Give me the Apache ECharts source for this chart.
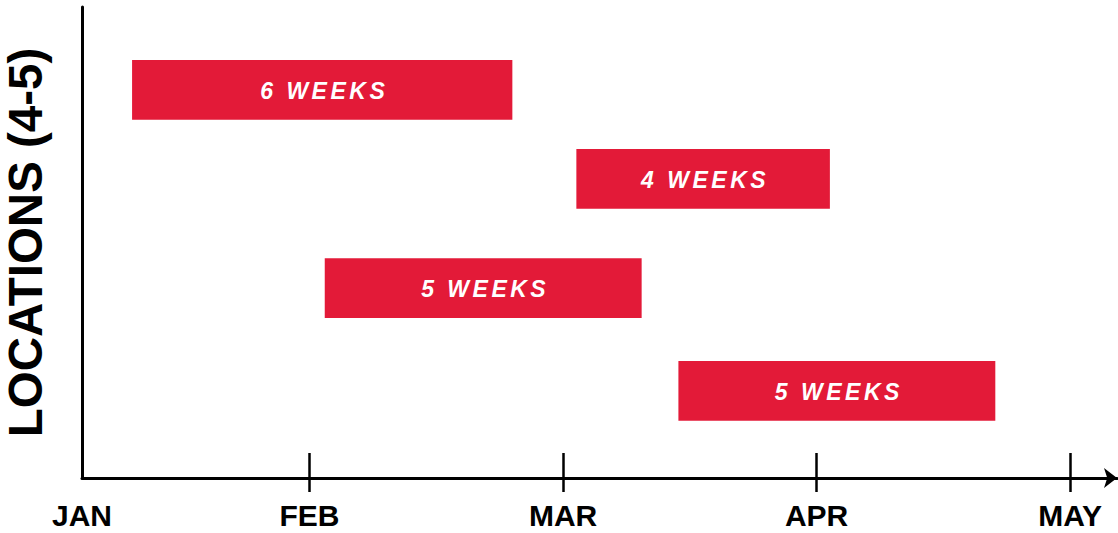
<!DOCTYPE html>
<html>
<head>
<meta charset="utf-8" />
<title>Locations timeline</title>
<script src="https://cdn.jsdelivr.net/npm/echarts@6/dist/echarts.min.js"></script>
<style>
  html, body { margin: 0; padding: 0; background: #fff; }
  #main { width: 1118px; height: 533px; }
  /* bar labels are spaced out a little */
  #main text[fill="#ffffff"], #main text[fill="#fff"] { letter-spacing: 3.5px; }
</style>
</head>
<body>
<div id="main"></div>
<script>
// time unit: weeks from the start of january
const monthNames = ["JAN", "FEB", "MAR", "APR", "MAY"];
const monthTicks = [4, 8, 12, 16];
const axisStart = 0.41;
const axisEnd = 16.74;
const labelValues = [axisStart, 4, 8, 12, 16];

// one bar per location
const barStart = [1.2, 8.21, 4.24, 9.82];
const barWeeks = [6, 4, 5, 5];
const barLane = [82.4, 63.5, 40.3, 18.5];
const barLabels = barWeeks.map((w) => w + " WEEKS");

const barThickness = 12.7;
const red = "#E31A38";

const chartDom = document.getElementById("main");
const myChart = echarts.init(chartDom, null, { renderer: "svg" });

const axisLabelStyle = {
  color: "#000",
  fontSize: 30,
  fontWeight: "bold",
  fontFamily: "Liberation Sans",
};

let option = {
  animation: false,
  grid: {
    left: 82,
    right: 1,
    top: 7,
    bottom: 55,
    containLabel: false,
    outerBoundsMode: "none",
  },
  xAxis: [
    {
      type: "value",
      min: axisStart,
      max: axisEnd,
      position: "bottom",
      axisLine: {
        show: true,
        onZero: false,
        symbol: ["none", "arrow"],
        symbolSize: [15, 13],
        lineStyle: { color: "#000", width: 3 },
      },
      axisTick: {
        show: true,
        inside: true,
        length: 25,
        customValues: monthTicks,
        lineStyle: { color: "#000", width: 2.5 },
      },
      axisLabel: {
        show: true,
        margin: 22,
        customValues: labelValues,
        formatter: (v) => monthNames[labelValues.indexOf(v)] || "",
        ...axisLabelStyle,
      },
      splitLine: { show: false },
    },
    {
      type: "value",
      min: axisStart,
      max: axisEnd,
      position: "bottom",
      axisLine: { show: false, onZero: false },
      axisTick: {
        show: true,
        inside: false,
        length: 14,
        customValues: monthTicks,
        lineStyle: { color: "#000", width: 2.5 },
      },
      axisLabel: { show: false },
      splitLine: { show: false },
    },
  ],
  yAxis: {
    type: "value",
    min: 0,
    max: 100,
    name: "LOCATIONS (4-5)",
    nameLocation: "middle",
    nameRotate: 90,
    nameGap: 33,
    nameTextStyle: {
      color: "#000",
      fontSize: 47.5,
      fontWeight: "bold",
      fontFamily: "Liberation Sans",
    },
    axisLine: { show: true, lineStyle: { color: "#000", width: 3 } },
    axisTick: { show: false },
    axisLabel: { show: false },
    splitLine: { show: false },
  },
  series: [
    {
      type: "custom",
      xAxisIndex: 0,
      data: barStart.map((s, i) => [s, s + barWeeks[i], barLane[i]]),
      renderItem: function (params, api) {
        const start = api.coord([api.value(0), api.value(2)]);
        const end = api.coord([api.value(1), api.value(2)]);
        const h = api.size([0, barThickness])[1];
        return {
          type: "rect",
          shape: {
            x: start[0],
            y: start[1] - h / 2,
            width: end[0] - start[0],
            height: h,
          },
          style: { fill: red },
          textContent: {
            style: {
              text: barLabels[params.dataIndex],
              fill: "#ffffff",
              fontSize: 23,
              fontWeight: "bold",
              fontStyle: "italic",
              fontFamily: "Liberation Sans",
            },
          },
          textConfig: { position: "inside", offset: [2, 1] },
        };
      },
    },
  ],
};

option && myChart.setOption(option);
window.onresize = function () {
  myChart.resize();
};
</script>
</body>
</html>
